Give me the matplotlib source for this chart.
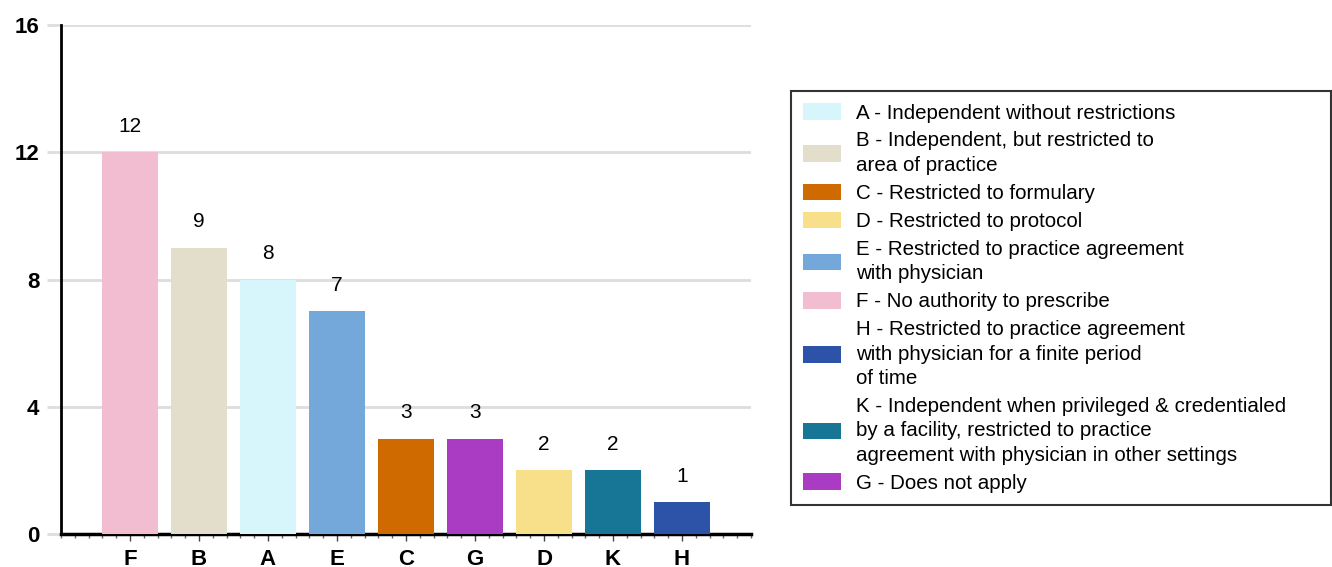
import numpy as np
import matplotlib.pyplot as plt
from matplotlib.patches import Patch
from matplotlib.ticker import FixedLocator

plt.rcParams['font.family'] = ['Liberation Sans', 'DejaVu Sans']

# data
categorie = ['F', 'B', 'A', 'E', 'C', 'G', 'D', 'K', 'H']
valori = [12, 9, 8, 7, 3, 3, 2, 2, 1]
colori = {
    'A': '#d6f6fb', 'B': '#e3ddcb', 'C': '#ce6a00', 'D': '#f8df8a',
    'E': '#74a7da', 'F': '#f2bcd1', 'G': '#aa3cc3', 'H': '#2d53a8',
    'K': '#177596',
}
legenda_ordine = ['A', 'B', 'C', 'D', 'E', 'F', 'H', 'K', 'G']
legenda_testi = {
    'A': 'A - Independent without restrictions',
    'B': 'B - Independent, but restricted to\narea of practice',
    'C': 'C - Restricted to formulary',
    'D': 'D - Restricted to protocol',
    'E': 'E - Restricted to practice agreement\nwith physician',
    'F': 'F - No authority to prescribe',
    'H': 'H - Restricted to practice agreement\nwith physician for a finite period\nof time',
    'K': 'K - Independent when privileged & credentialed\nby a facility, restricted to practice\nagreement with physician in other settings',
    'G': 'G - Does not apply',
}

fig = plt.figure(figsize=(13.32, 5.67), dpi=100)
ax = fig.add_axes([61/1332, 1 - 534/567, 690/1332, 509/567])

x = np.arange(len(categorie))
ax.bar(x, valori, width=0.8, color=[colori[c] for c in categorie], zorder=3)

# etichette valori
for xi, v in zip(x, valori):
    ax.text(xi, v + 0.52, str(v), ha='center', va='bottom', fontsize=15, zorder=4)

ax.set_xlim(-1, 9)
ax.set_ylim(0, 16)
ax.set_yticks([0, 4, 8, 12, 16])
ax.set_xticks(x)
ax.set_xticklabels(categorie, fontsize=16, fontweight='bold')
ax.xaxis.set_minor_locator(FixedLocator(np.round(np.arange(-1, 9.01, 0.2), 2)))
ax.tick_params(axis='x', which='major', length=5, width=1, color='#444444', pad=5.5)
ax.tick_params(axis='x', which='minor', length=3, width=1, color='#666666')
ax.tick_params(axis='y', which='major', length=10, width=2, color='#dddddd', pad=5.5,
               labelsize=16)
for lab in ax.get_yticklabels():
    lab.set_fontweight('bold')

ax.grid(True, axis='y', color='#dddddd', linewidth=2, zorder=0)
for s in ['top', 'right']:
    ax.spines[s].set_visible(False)
ax.spines['left'].set_linewidth(2)
ax.spines['bottom'].set_linewidth(2.5)

handles = [Patch(facecolor=colori[c], edgecolor='none') for c in legenda_ordine]
etichette = [legenda_testi[c] for c in legenda_ordine]
leg = fig.legend(handles, etichette, loc='upper left', mode='expand',
                 bbox_to_anchor=(791/1332, 1 - 502/567, 540/1332, 411/567),
                 borderaxespad=0,
                 fontsize=14.8, frameon=True, fancybox=False,
                 handlelength=1.85, handleheight=0.87, handletextpad=0.7,
                 labelspacing=0.42, borderpad=0.6)
for t in leg.get_texts():
    t.set_linespacing(1.37)
leg.get_frame().set_edgecolor('black')
leg.get_frame().set_linewidth(1.5)

plt.savefig('out.png', dpi=100)
